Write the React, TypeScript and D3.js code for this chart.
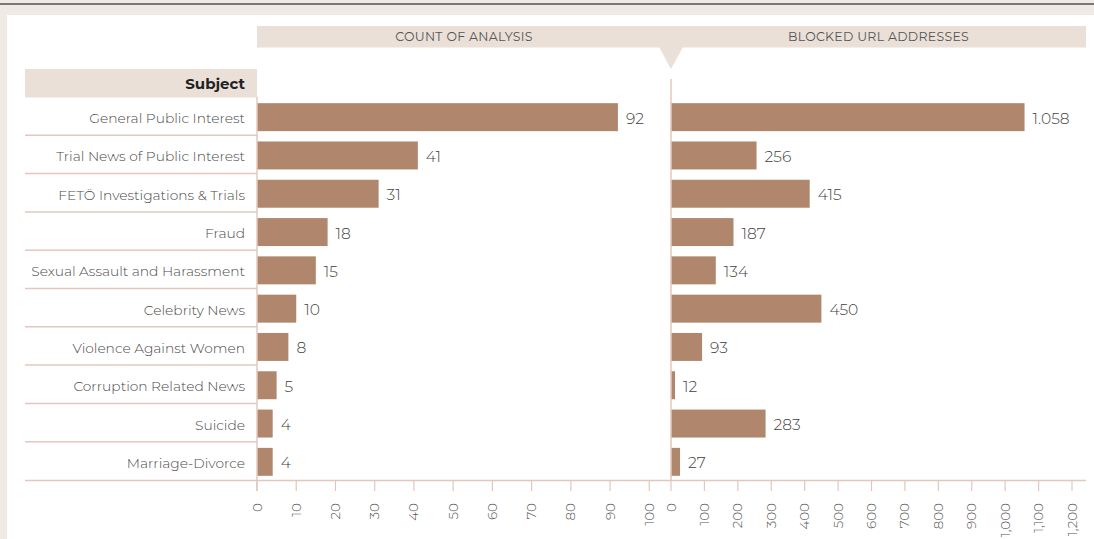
import React from "react";
import * as d3 from "d3";

const categories = [
  "General Public Interest",
  "Trial News of Public Interest",
  "FETÖ Investigations & Trials",
  "Fraud",
  "Sexual Assault and Harassment",
  "Celebrity News",
  "Violence Against Women",
  "Corruption Related News",
  "Suicide",
  "Marriage-Divorce",
];
const analysisCounts = [92, 41, 31, 18, 15, 10, 8, 5, 4, 4];
const blockedUrls = [1058, 256, 415, 187, 134, 450, 93, 12, 283, 27];
const leftTicks = [0, 10, 20, 30, 40, 50, 60, 70, 80, 90, 100];
const rightTicks = [0, 100, 200, 300, 400, 500, 600, 700, 800, 900, 1000, 1100, 1200];
const leftTitle = "COUNT OF ANALYSIS";
const rightTitle = "BLOCKED URL ADDRESSES";
const rowHeader = "Subject";

const W = 1094;
const H = 539;
const FONT = "Montserrat, 'Open Sans', 'Noto Sans', sans-serif";
const BAR = "#b0876d";
const LINE = "#e2c8bc";
const BAND = "#eae0d8";
const fmt = (v: number) => d3.format(",")(v).replace(/,/g, ".");
const fmtTick = (v: number) => d3.format(",")(v);

export default function App() {
  const leftX0 = 257;
  const mid = 671;
  const rightEnd = 1086;
  const xL = d3.scaleLinear().domain([0, 100]).range([leftX0, 649.3]);
  const xR = d3.scaleLinear().domain([0, 1200]).range([mid, 1072]);
  const y = d3
    .scaleBand<string>()
    .domain(categories)
    .range([98, 481])
    .paddingInner(0.27)
    .paddingOuter(0.135);
  const step = y.step();
  const bandTop = (i: number) => 97 + i * step;
  const axisY = 480.5;

  return (
    <svg
      width={W}
      height={H}
      style={{ position: "absolute", left: 0, top: 0, display: "block" }}
    >
      <rect x={0} y={0} width={W} height={H} fill="#efeae4" />
      <line x1={0} x2={W} y1={4} y2={4} stroke="#7d7873" strokeWidth={2} />
      <rect x={7} y={15} width={W - 7} height={H - 15} fill="#ffffff" />

      {/* header band */}
      <rect x={leftX0} y={26} width={rightEnd - leftX0} height={21.5} fill={BAND} />
      <path d={`M${mid - 12},47 L${mid + 12},47 L${mid},69 Z`} fill={BAND} />
      <text
        x={(leftX0 + mid) / 2}
        y={41}
        textAnchor="middle"
        fontFamily={FONT}
        fontSize={12.5}
        letterSpacing={0.3}
        fill="#555"
      >
        {leftTitle}
      </text>
      <text
        x={(mid + rightEnd) / 2}
        y={41}
        textAnchor="middle"
        fontFamily={FONT}
        fontSize={12.5}
        letterSpacing={0.3}
        fill="#555"
      >
        {rightTitle}
      </text>

      {/* subject header */}
      <rect x={25} y={69} width={leftX0 - 25} height={28.5} fill={BAND} />
      <text
        x={245}
        y={88.5}
        textAnchor="end"
        fontFamily={FONT}
        fontWeight="bold"
        fontSize={15}
        fill="#222"
      >
        {rowHeader}
      </text>

      {/* rows */}
      {categories.map((c, i) => {
        const top = bandTop(i);
        const cy = (y(c) ?? 0) + y.bandwidth() / 2;
        return (
          <g key={c}>
            {i < categories.length - 1 && (
              <line x1={25} x2={leftX0} y1={top + step} y2={top + step} stroke={LINE} strokeWidth={1.5} />
            )}
            <text
              x={245}
              y={cy + 6}
              textAnchor="end"
              fontFamily={FONT}
              fontSize={13.8}
              fontWeight={300}
              fill="#4a4a4a"
            >
              {c}
            </text>
            <rect
              x={xL(0)}
              y={y(c)}
              width={xL(analysisCounts[i]) - xL(0)}
              height={y.bandwidth()}
              fill={BAR}
            />
            <text
              x={xL(analysisCounts[i]) + 8}
              y={cy + 6.5}
              fontFamily={FONT}
              fontSize={15.5}
              fontWeight={300}
              fill="#3f3f3f"
            >
              {fmt(analysisCounts[i])}
            </text>
            <rect
              x={xR(0)}
              y={y(c)}
              width={xR(blockedUrls[i]) - xR(0)}
              height={y.bandwidth()}
              fill={BAR}
            />
            <text
              x={xR(blockedUrls[i]) + 8}
              y={cy + 6.5}
              fontFamily={FONT}
              fontSize={15.5}
              fontWeight={300}
              fill="#3f3f3f"
            >
              {fmt(blockedUrls[i])}
            </text>
          </g>
        );
      })}

      {/* vertical lines */}
      <line x1={leftX0} x2={leftX0} y1={97} y2={491} stroke={LINE} strokeWidth={1.5} />
      <line x1={mid} x2={mid} y1={79} y2={axisY} stroke={LINE} strokeWidth={1.5} />

      {/* axis line */}
      <line x1={25} x2={rightEnd} y1={axisY} y2={axisY} stroke={LINE} strokeWidth={1.5} />

      {leftTicks.map((t) => (
        <g key={"l" + t} transform={`translate(${xL(t)},0)`}>
          <line y1={axisY} y2={491} stroke={LINE} strokeWidth={1.2} />
          <text
            transform={`translate(4.5,503) rotate(-90)`}
            textAnchor="end"
            fontFamily={FONT}
            fontSize={13.5}
            fontWeight={300}
            fill="#555"
          >
            {fmtTick(t)}
          </text>
        </g>
      ))}
      {rightTicks.map((t) => (
        <g key={"r" + t} transform={`translate(${xR(t)},0)`}>
          <line y1={axisY} y2={491} stroke={LINE} strokeWidth={1.2} />
          <text
            transform={`translate(4.5,503) rotate(-90)`}
            textAnchor="end"
            fontFamily={FONT}
            fontSize={13.5}
            fontWeight={300}
            fill="#555"
          >
            {fmtTick(t)}
          </text>
        </g>
      ))}
    </svg>
  );
}
